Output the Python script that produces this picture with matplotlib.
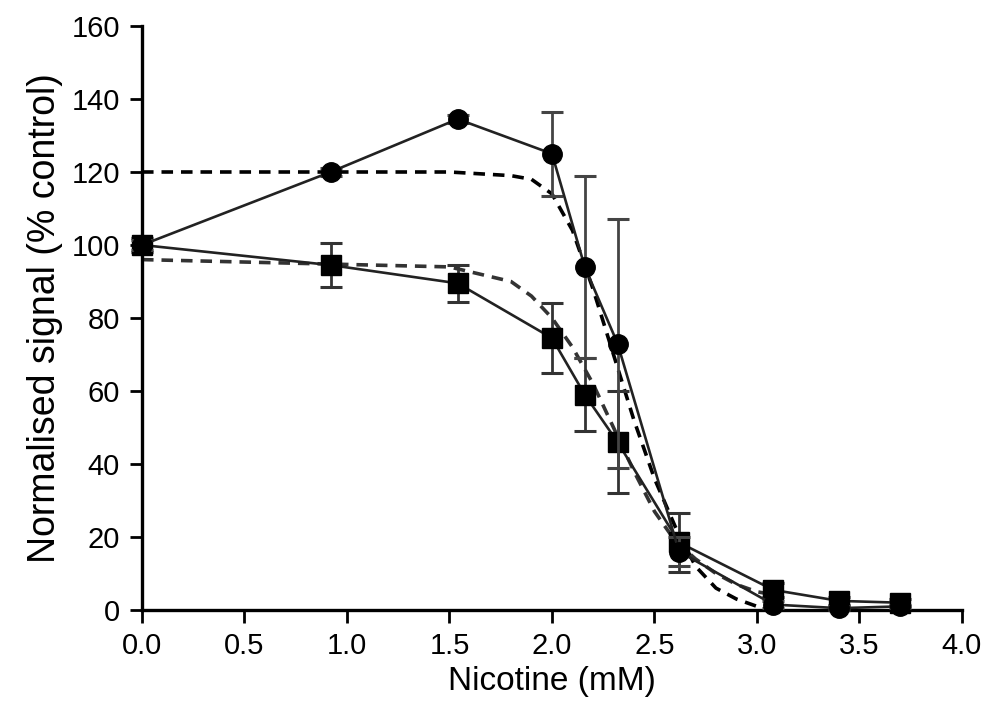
import numpy as np
import matplotlib
matplotlib.use('Agg')
import matplotlib.pyplot as plt

plt.rcParams['font.family'] = ['Liberation Sans', 'DejaVu Sans']

# nicotine concentrations (mM)
conc = [0.0, 0.92, 1.54, 2.0, 2.16, 2.32, 2.62, 3.08, 3.4, 3.7]

# circles
circ = [100, 120, 134.5, 125, 94, 73, 16, 1.5, 0.5, 1]
circ_err = [1.5, 1, 1, 11.5, 25, 34, 4, 1, 0.5, 0.5]

# squares
sq = [100, 94.5, 89.5, 74.5, 59, 46, 18.5, 5.5, 2.5, 2]
sq_err = [2, 6, 5, 9.5, 10, 14, 8, 2, 1, 1]

# fitted curves
fit_x = [0.0, 1.5, 1.8, 1.9, 2.0, 2.1, 2.2, 2.3, 2.4, 2.5, 2.6, 2.7, 2.8, 2.9, 3.0, 3.1]
fit_circ = [120, 120, 119, 118, 114, 104, 88, 70, 52, 36, 23, 12, 6, 3, 1, 0]
fit_sq = [96, 94, 90, 86, 80, 72, 62, 50, 38, 27, 19, 14, 10, 7, 5, 4]

fig = plt.figure(figsize=(9.84, 7.18), dpi=100)
ax = fig.add_axes([0.1443, 0.1504, 0.8333, 0.8134])

ax.plot(fit_x, fit_circ, color='black', lw=2.6, ls=(0, (3.2, 2.2)), zorder=2)
ax.plot(fit_x, fit_sq, color='#333333', lw=2.6, ls=(0, (3.2, 2.2)), zorder=2)

ax.errorbar(conc, sq, yerr=sq_err, color='#222222', lw=1.9, marker='s', ms=15,
            mfc='black', mec='black', ecolor='#333333', elinewidth=2, capsize=8,
            capthick=2.2, zorder=3, clip_on=False)
ax.errorbar(conc, circ, yerr=circ_err, color='#222222', lw=1.9, marker='o', ms=14,
            mfc='black', mec='black', ecolor='#444444', elinewidth=2, capsize=8,
            capthick=2.2, zorder=4, clip_on=False)

ax.set_xlim(0, 4.0)
ax.set_ylim(0, 160)
ax.set_xticks(np.arange(0, 4.01, 0.5))
ax.set_xticklabels(['%.1f' % v for v in np.arange(0, 4.01, 0.5)])
ax.set_yticks(range(0, 161, 20))

for s in ['top', 'right']:
    ax.spines[s].set_visible(False)
for s in ['left', 'bottom']:
    ax.spines[s].set_linewidth(2.4)
ax.tick_params(width=2, length=9, labelsize=21, pad=7)

ax.set_xlabel('Nicotine (mM)', fontsize=24, labelpad=4)
ax.set_ylabel('Normalised signal (% control)', fontsize=27, labelpad=6)

fig.savefig('out.png', dpi=100)
